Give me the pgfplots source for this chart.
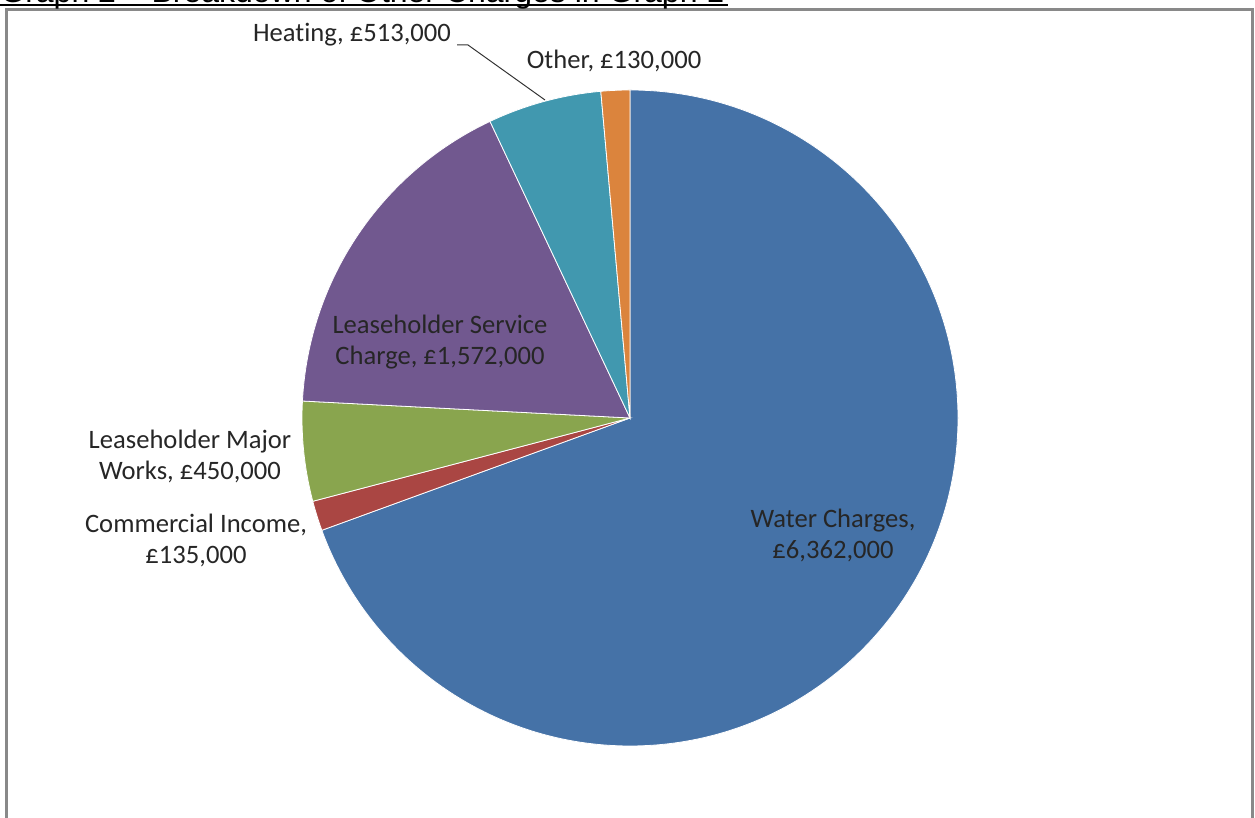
\documentclass[border=0pt]{standalone}
\usepackage{pgfplots}
\pgfplotsset{compat=1.18}
\usepackage{pgfplotstable}
\usepackage{fontspec}
\setmainfont{Carlito}[Ligatures={NoCommon,NoDiscretionary}]
\newfontfamily\titlefont{Liberation Sans}

\definecolor{c0}{HTML}{4572A7}
\definecolor{c1}{HTML}{AA4643}
\definecolor{c2}{HTML}{89A54E}
\definecolor{c3}{HTML}{71588F}
\definecolor{c4}{HTML}{4198AF}
\definecolor{c5}{HTML}{DB843D}
\definecolor{framegray}{HTML}{898989}

% values in thousands of pounds, clockwise from 12 o'clock
\pgfplotstableread{
idx value
0 6362
1 135
2 450
3 1572
4 513
5 130
}\piedata

\begin{document}
\begin{tikzpicture}
% slice angles from the table
\def\total{0}
\pgfplotsforeachungrouped \i in {0,...,5}{%
  \pgfplotstablegetelem{\i}{value}\of\piedata
  \pgfmathsetmacro\total{\total+\pgfplotsretval}}
\def\cum{0}
\pgfplotsforeachungrouped \i in {0,...,5}{%
  \pgfplotstablegetelem{\i}{value}\of\piedata
  \pgfmathsetmacro\s{90-\cum/\total*360}%
  \pgfmathsetmacro\cum{\cum+\pgfplotsretval}%
  \pgfmathsetmacro\e{90-\cum/\total*360}%
  \expandafter\xdef\csname angS\i\endcsname{\s}%
  \expandafter\xdef\csname angE\i\endcsname{\e}}

\clip (0,0) rectangle (627.5pt,409pt);
\begin{axis}[at={(0,0)}, anchor=south west,
  x=0.5pt, y=0.5pt, xmin=0, xmax=1255, ymin=0, ymax=818,
  hide axis, clip=false]
\pgfplotsinvokeforeach{0,...,5}{
  \filldraw[fill=c#1, draw=white, line width=0.4pt]
    (axis cs:630,400) -- ++(\csname angS#1\endcsname:164pt)
    arc[start angle=\csname angS#1\endcsname, end angle=\csname angE#1\endcsname, radius=164pt] -- cycle;
}
\tikzset{lbl/.style={align=center, inner sep=0pt, text=black!85,
  font=\fontsize{13.3}{15.5}\selectfont}}
\node[lbl] at (axis cs:833,283) {Water Charges,\\£6,362,000};
\node[lbl] at (axis cs:196,278) {Commercial Income,\\£135,000};
\node[lbl] at (axis cs:190,362) {Leaseholder Major\\Works, £450,000};
\node[lbl] at (axis cs:440,476) {Leaseholder Service\\Charge, £1,572,000};
\node[lbl] at (axis cs:352,783) {Heating, £513,000};
\node[lbl] at (axis cs:614,757) {Other, £130,000};
\draw[black!80, line width=0.5pt] (axis cs:457,773) -- (axis cs:468,773) -- (axis cs:545,718);

% chart frame and clipped title
\draw[framegray, line width=1.5pt] (axis cs:6,-20) -- (axis cs:6,808) -- (axis cs:1252,808) -- (axis cs:1252,-20);
\node[anchor=base west, inner sep=0pt, font=\titlefont\fontsize{16}{19}\selectfont]
  at (axis cs:0,815.5) {Graph 2 – Breakdown of Other Charges in Graph 1};
\draw[line width=1.3pt] (axis cs:0,813) -- (axis cs:728,813);
\end{axis}
\end{tikzpicture}
\end{document}
